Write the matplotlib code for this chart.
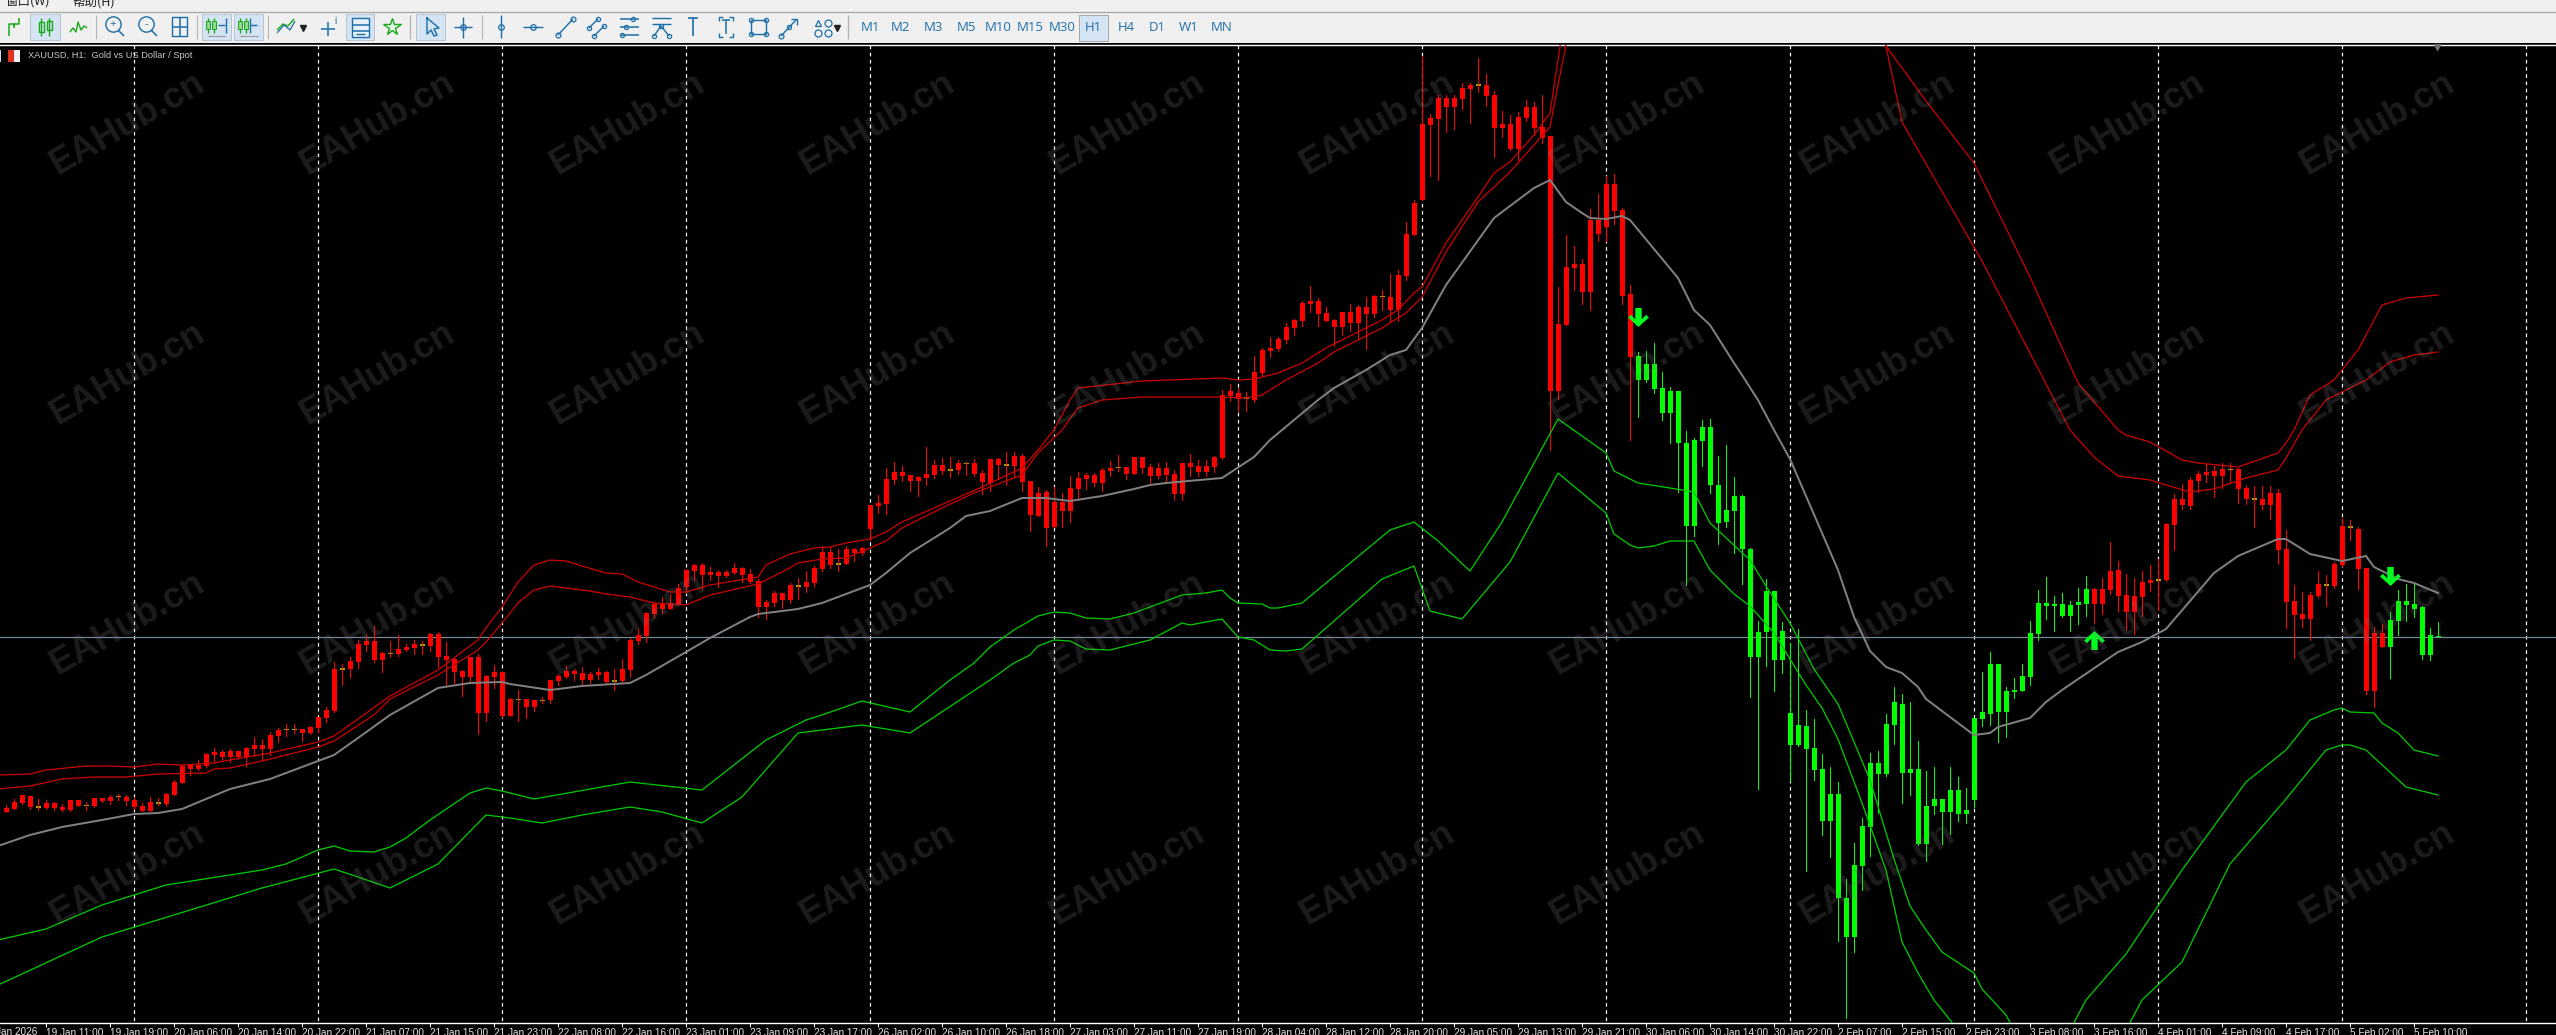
import numpy as np
import matplotlib
matplotlib.use('Agg')
import matplotlib.pyplot as plt
from matplotlib.patches import Rectangle

# price levels have no axis in the picture, so they are kept as chart rows
high = [805,799,795,796,799,800,802,804,800,800, 802,798,798,795,794,795,797,803,797,798,
        793,780,764,764,760,753,748,750,749,751, 747,737,739,732,728,724,724,729,726,717,
        707,662,664,657,640,635,626,652,641,635, 644,640,641,633,632,642,657,670,657,654,
        675,665,672,698,690,699,700,697,680,674, 666,669,667,672,668,671,669,659,638,629,
        612,602,597,594,584,569,564,563,567,570, 570,563,567,569,579,600,591,593,583,578,
        571,566,546,547,549,546,548,547,505,495, 468,462,466,475,476,447,460,458,457,460,
        462,459,470,459,458,452,452,454,481,487, 490,487,493,476,472,473,473,468,461,455,
        467,457,457,464,463,462,470,463,454,460, 460,456,390,384,388,392,356,348,337,337,
        323,319,301,286,298,307,319,312,304,305, 297,295,290,274,270,222,200,56,114,95,
        95,95,83,83,58,74,91,111,115,112, 100,102,95,136,287,235,246,259,209,194,
        176,174,208,285,352,351,343,372,387,391, 431,438,420,419,456,445,477,495,548,621,
        579,591,622,643,629,710,719,754,767,782, 879,843,818,753,751,714,687,694,702,741,
        771,767,799,767,777,788,718,672,652,664, 687,678,664,621,590,577,596,593,601,588,
        576,588,578,542,561,574,578,571,565,559, 523,494,484,477,471,464,466,463,463,468,
        485,486,486,486,489,530,585,592,592,571, 575,562,518,520,527,568,627,624,612,590,
        584,584,606,628,622]
body_top = [808,802,795,796,806,803,803,807,800,800, 805,798,798,797,796,797,800,806,802,802,
        794,782,766,765,765,754,752,752,751,751, 748,745,745,735,730,729,729,729,727,717,
        710,669,668,661,644,641,641,653,653,649, 647,644,644,634,634,656,659,671,657,657,
        676,672,672,699,699,699,700,700,680,676, 671,671,673,674,672,672,680,669,640,635,
        613,604,604,603,588,570,565,565,572,572, 572,568,568,574,581,602,593,593,585,585,
        582,568,552,552,563,549,549,548,505,503, 479,472,472,475,477,474,465,465,469,463,
        463,463,473,459,459,464,456,456,481,493, 492,502,502,488,478,475,475,470,468,467,
        467,457,457,467,468,468,474,463,463,466, 466,457,395,391,393,397,372,350,348,339,
        327,320,303,301,301,313,320,312,312,307, 307,296,296,297,275,234,203,124,118,98,
        98,98,88,85,84,85,95,124,124,117, 107,107,127,136,324,267,264,264,220,220,
        184,184,210,294,356,364,364,388,391,391, 443,440,427,427,485,510,496,496,549,632,
        591,591,631,713,725,726,748,769,794,794, 898,865,826,763,763,724,702,704,769,769,
        806,799,799,790,790,810,718,712,664,664, 691,690,676,633,603,603,604,604,605,602,
        589,589,589,571,570,595,596,582,580,579, 524,499,499,480,474,472,471,469,469,469,
        488,498,499,493,493,549,601,614,595,584, 584,564,526,526,529,568,633,633,620,601,
        601,604,607,635,636]
body_bot = [812,809,803,807,808,808,808,810,810,806, 806,806,801,801,797,801,807,811,811,804,
        804,795,783,769,769,766,755,757,757,757, 757,749,749,749,736,730,730,733,733,728,
        718,711,670,669,662,645,660,660,654,654, 650,648,646,646,657,660,672,677,677,713,
        713,677,716,716,700,707,707,701,700,681, 677,674,680,680,675,682,682,681,670,641,
        636,614,609,609,604,587,571,575,575,576, 576,573,575,582,607,607,603,600,600,587,
        587,583,569,565,565,564,553,553,529,506, 504,480,476,481,481,478,475,471,471,470,
        464,474,482,483,465,466,466,482,515,516, 528,527,511,511,489,479,483,483,471,468,
        474,474,468,476,476,475,494,494,467,472, 472,467,458,396,399,399,400,373,351,349,
        340,328,321,304,314,321,327,327,323,323, 314,314,297,310,310,276,235,200,125,119,
        107,107,99,89,86,96,128,128,149,149, 118,128,138,391,391,325,268,292,292,234,
        227,211,296,357,380,380,389,413,413,443, 526,526,441,485,523,522,511,549,657,657,
        632,660,660,745,745,749,770,821,821,898, 937,937,866,827,774,774,725,773,773,844,
        844,806,812,812,814,814,800,719,714,712, 712,692,691,677,634,606,606,616,616,605,
        604,604,604,590,596,612,612,597,583,581, 580,525,505,506,481,475,476,476,470,489,
        499,500,505,505,550,602,615,619,619,596, 586,586,565,528,569,691,691,647,647,621,
        605,609,655,655,637]
low = [812,809,804,809,810,809,810,811,811,806, 810,807,802,804,800,805,809,811,811,805,
        806,795,783,775,770,767,762,760,762,759, 766,756,761,755,742,736,733,741,734,732,
        722,712,685,677,668,651,662,672,657,656, 651,654,654,651,667,686,683,696,682,734,
        721,688,717,716,721,718,711,703,703,685, 678,680,685,683,679,683,690,682,677,644,
        642,617,613,609,605,593,580,589,580,587, 577,574,582,583,617,619,606,608,603,599,
        592,587,571,568,571,564,561,555,540,513, 514,484,481,491,496,485,478,474,477,474,
        475,476,494,491,479,485,476,491,531,516, 546,527,527,522,498,489,486,491,476,471,
        479,474,473,484,478,482,500,500,476,476, 476,472,459,401,411,411,402,376,357,351,
        343,335,326,312,326,321,346,335,331,338, 349,317,310,322,321,280,235,200,176,180,
        132,129,109,123,92,106,157,137,150,160, 121,135,143,450,399,325,290,304,310,241,
        241,224,304,440,417,382,393,420,443,492, 585,536,466,493,544,527,553,584,697,789,
        666,691,673,781,746,871,780,835,857,941, 1018,952,890,856,813,776,744,803,795,845,
        861,814,844,834,821,823,807,726,725,742, 737,698,691,685,640,619,631,617,631,624,
        616,623,614,594,612,630,634,616,591,610, 581,550,509,509,492,482,497,488,482,503,
        504,527,509,519,564,628,658,627,640,597, 606,588,566,540,589,694,707,647,678,635,
        621,617,659,660,637]
green_runs = [(204, 260), (298, 304)]

mid_x = [-1,3,7,12,16,19,22,28,33,37,41,44,48,54,58,62,63,68,72,78,80,85,88,93,94,99,102,108,110,113,118,120,123,127,130,133,137,141,143,145,152,156,158,164,166,170,173,175,177,180,186,189,191,193,195,197,198,200,202,203,209,211,213,216,217,219,221,223,229,231,233,235,237,239,240,246,248,249,253,255,257,264,267,270,276,279,284,285,288,292,295,296,299,301,304]
mid_y = [846,835,827,820,814,813,809,789,779,767,755,738,715,688,683,682,684,690,686,683,675,652,638,617,614,609,603,585,573,553,528,516,511,498,498,501,496,489,485,483,478,457,440,400,388,370,355,350,328,285,218,200,188,180,202,213,218,219,216,220,278,310,325,363,375,400,430,459,570,617,651,667,673,687,699,735,733,727,718,702,690,652,642,629,573,556,539,539,554,561,556,567,579,583,593]

red_a_x = [-1,3,5,10,13,16,19,22,26,28,33,39,41,44,48,54,59,60,62,64,66,68,70,72,75,77,79,83,85,88,94,95,98,99,101,103,105,108,110,112,118,122,127,129,131,133,134,142,152,154,156,159,162,165,169,172,174,176,177,180,184,186,188,191,193,194,195]
red_a_y = [775,774,770,766,766,767,764,765,763,760,753,742,736,719,696,670,640,628,607,582,565,560,561,566,573,574,582,592,592,585,577,565,554,552,548,547,543,539,532,522,501,487,468,450,430,400,388,381,378,380,379,373,363,348,332,320,310,293,287,243,197,173,162,135,113,60,5]
red_a2_x = [234,235,240,246,253,259,264,265,268,272,274,279,284,285,286,288,291,294,297,300,304]
red_a2_y = [-10,46,101,163,277,383,430,435,442,460,463,467,453,443,430,395,380,350,305,298,295]
red_b_x = [-1,3,7,11,15,19,25,26,28,32,39,41,46,48,54,59,60,62,64,66,68,73,75,78,81,85,88,94,97,99,102,105,108,110,112,117,121,127,129,132,134,137,142,152,155,157,160,164,166,169,172,175,177,180,184,188,191,193,194,195,196]
red_b_y = [789,786,779,777,777,774,773,769,768,761,747,741,715,699,675,650,642,623,603,590,586,591,594,597,603,605,595,584,572,563,559,558,548,541,528,508,493,475,453,430,408,400,397,397,398,395,380,363,352,340,328,313,297,252,202,172,145,127,85,45,-20]
red_b2_x = [234,235,237,247,258,261,264,268,270,273,276,280,284,285,287,290,295,298,301,304]
red_b2_y = [-60,46,122,261,430,457,476,480,485,492,489,478,470,458,430,400,380,362,355,352]

green_a_x = [-1,5,12,20,32,35,39,41,43,46,48,50,53,58,60,62,66,78,87,95,98,100,102,107,113,118,121,123,126,129,131,133,135,138,141,143,147,150,152,153,154,157,158,159,162,173,176,179,183,187,194,200,201,204,208,211,213,218,220,223,226,229,233,236,238,240,242,246,247,250,251]
green_a_y = [940,929,905,885,870,864,850,846,851,852,847,838,820,793,788,791,799,782,790,740,728,720,715,701,712,680,663,647,630,616,612,613,618,619,613,607,595,593,590,598,603,604,608,608,603,530,522,541,571,522,419,453,471,483,488,492,523,560,586,623,669,704,780,859,906,930,952,973,989,1015,1030]
green_a2_x = [258,260,265,272,280,285,288,291,292,293,296,297,299,301,304]
green_a2_y = [1030,1000,954,870,782,750,720,710,708,712,713,723,733,750,756]
green_b_x = [-1,12,32,41,44,48,54,60,63,67,72,78,82,87,92,99,107,113,123,126,128,129,131,133,135,138,141,143,147,148,152,154,156,158,160,162,172,176,178,182,188,194,200,201,203,204,206,208,211,213,216,218,221,225,227,229,232,235,237,239,241,244]
green_b_y = [985,937,888,869,877,888,864,815,818,823,815,807,812,823,797,733,725,733,680,663,655,646,640,641,649,650,644,640,623,625,619,637,640,650,651,649,579,566,611,619,562,473,513,534,545,548,546,541,541,570,594,606,633,685,708,739,803,870,942,973,1000,1030]
green_b2_x = [265,267,272,278,285,290,292,293,295,300,304]
green_b2_y = [1030,1000,962,864,799,750,745,745,750,787,795]

down_arrow_x = [204, 298]
down_arrow_y = [317, 576]
up_arrow_x = [261]
up_arrow_y = [640]
last_row = 636.5

tick_pos = np.arange(5, 302, 8)
first_tick = -3
first_label = '19 Jan 2026'
tick_labels = ['19 Jan 11:00','19 Jan 19:00','20 Jan 06:00','20 Jan 14:00','20 Jan 22:00',
    '21 Jan 07:00','21 Jan 15:00','21 Jan 23:00','22 Jan 08:00','22 Jan 16:00','23 Jan 01:00','23 Jan 09:00',
    '23 Jan 17:00','26 Jan 02:00','26 Jan 10:00','26 Jan 18:00','27 Jan 03:00','27 Jan 11:00','27 Jan 19:00',
    '28 Jan 04:00','28 Jan 12:00','28 Jan 20:00','29 Jan 05:00','29 Jan 13:00','29 Jan 21:00','30 Jan 06:00',
    '30 Jan 14:00','30 Jan 22:00','2 Feb 07:00','2 Feb 15:00','2 Feb 23:00','3 Feb 08:00','3 Feb 16:00',
    '4 Feb 01:00','4 Feb 09:00','4 Feb 17:00','5 Feb 02:00','5 Feb 10:00']
day_starts = np.arange(16, 319, 23)
periods = ['M1','M2','M3','M5','M10','M15','M30','H1','H4','D1','W1','MN']
period_x = [870,901,933,966,998,1030,1062,1093,1126,1157,1189,1222]

W, H = 2556, 1035
px = 0.72
plt.rcParams['font.family'] = ['Liberation Sans', 'DejaVu Sans']
fig = plt.figure(figsize=(W/100, H/100), dpi=100, facecolor='black')

ax = fig.add_axes([0, (H-1023)/H, 1, (1023-44.5)/H], facecolor='black')

n = len(high)
idx = np.arange(n)
top = np.array(body_top)
bot = np.array(body_bot)
is_green = np.zeros(n, dtype=bool)
for a, b in green_runs:
    is_green[a:b+1] = True
wick_col = ['#00ff00' if g else '#ff0000' for g in is_green]
body_col = []
for i in idx:
    if is_green[i]:
        body_col.append('#00ff00')
    elif bot[i]-top[i] <= 2:
        body_col.append('#a0b000')
    else:
        body_col.append('#ff0000')

ax.vlines(day_starts, 44.5, 1023, colors='white', lw=px*1.2, linestyles=(0, (3, 3)), zorder=1)
ax.axhline(last_row, color='#778899', lw=px*1.2, zorder=1.5)
ax.bar(idx, np.maximum(bot-top, 1), bottom=top, width=5/8, color=body_col, linewidth=0, antialiased=False, zorder=3)
ax.vlines(idx, high, low, colors=wick_col, lw=px, antialiased=False, zorder=4)

for xs, ys in [(red_a_x, red_a_y), (red_a2_x, red_a2_y), (red_b_x, red_b_y), (red_b2_x, red_b2_y)]:
    ax.plot(xs, ys, color='#c80000', lw=px*1.3, zorder=5)
for xs, ys in [(green_a_x, green_a_y), (green_a2_x, green_a2_y), (green_b_x, green_b_y), (green_b2_x, green_b2_y)]:
    ax.plot(xs, ys, color='#00c800', lw=px*1.3, zorder=5)
ax.plot(mid_x, mid_y, color='#808080', lw=px*2, zorder=5)

down = [(-1.7,-5),(-1.7,1),(-4,-1.4),(-5.5,0),(0,5),(5.5,0),(4,-1.4),(1.7,1),(1.7,-5)]
down = [(x, -y) for x, y in down]
up = [(x, -y) for x, y in down]
ax.scatter(down_arrow_x, down_arrow_y, marker=down, s=225, color='#00ff1e', linewidth=0, zorder=6)
ax.scatter(up_arrow_x, up_arrow_y, marker=up, s=225, color='#00ff1e', linewidth=0, zorder=6)

ax.set_yticks([])
ax.set_xticks(tick_pos, tick_labels, ha='left')
ax.tick_params(axis='x', length=4*px, width=px, color='white', labelcolor='#e6e6e6', labelsize=7.2, pad=0.5)
ax.set_xlim(-0.75, (W-6)/8)
ax.set_ylim(1023, 44.5)
for s in ['left', 'right']:
    ax.spines[s].set_visible(False)
ax.spines['bottom'].set_color('white')
ax.spines['bottom'].set_linewidth(px*1.4)
ax.spines['top'].set_color('white')
ax.spines['top'].set_linewidth(px*1.4)
# first date starts left of the window, so it can't be a normal tick
ax.annotate(first_label, (first_tick, 0), xycoords=('data', 'axes fraction'), xytext=(0, -6.5), textcoords='offset points',
            color='#e6e6e6', fontsize=7.2, ha='left', va='center', annotation_clip=False)

# overlay in screen pixels for the terminal window around the chart
ui = fig.add_axes([0, 0, 1, 1], facecolor='none')
ui.set_xlim(0, W)
ui.set_ylim(H, 0)
ui.axis('off')

for wx in np.arange(128, 2500, 250):
    for wy in [124, 374, 624, 874]:
        ui.text(wx, wy, 'EAHub.cn', color='#808080', alpha=0.22, fontsize=26, fontweight='bold',
                rotation=30, rotation_mode='anchor', ha='center', va='center', clip_on=True, zorder=1)

ui.add_patch(Rectangle((0, 0), W, 43, facecolor='#f0f0f0', edgecolor='none', zorder=2))
ui.add_patch(Rectangle((0, 43), W, 1, facecolor='black', edgecolor='none', zorder=2))
ui.plot([0, W], [11.8, 11.8], color='#a8a8a8', lw=px*1.3, zorder=3)
cjk = ['Noto Sans CJK SC', 'DejaVu Sans']
ui.text(5, 2, '窗口(W)', fontsize=9, color='#222222', family=cjk, va='center', zorder=3)
ui.text(72, 2, '帮助(H)', fontsize=9, color='#222222', family=cjk, va='center', zorder=3)

BLUE = '#1b6ea8'
GRN = '#18a818'
def box(x0, x1, y0=14, y1=40, fc='#d5e4f3'):
    ui.add_patch(Rectangle((x0, y0), x1-x0, y1-y0, facecolor=fc, edgecolor='#b8c4cf', lw=px, zorder=3))
def seg(xs, ys, c=BLUE, lw=1.1):
    ui.plot(xs, ys, color=c, lw=lw, solid_capstyle='butt', zorder=4)
def circ(x, y, r=6, c=BLUE):
    ui.plot([x], [y], marker='o', ms=r, mfc='none', mec=c, mew=0.9, zorder=4)

for x0, x1 in [(30, 60), (202, 231), (234, 263), (346, 374), (416, 445)]:
    box(x0, x1)
for x in [96, 197, 268, 482]:
    seg([x, x], [15, 39], '#b4b4b4', 0.8)
for x in [410, 848]:
    seg([x, x], [15, 39], '#b4b4b4', 1.0)

# bar / candle / line icons
seg([9, 9, 14, 14], [36, 24, 24, 26], GRN); seg([14, 14, 19, 19], [28, 24, 24, 18], GRN)
seg([41, 41], [18, 36], GRN, 1); seg([49, 49], [18, 36], GRN, 1)
ui.add_patch(Rectangle((38.5, 22), 5, 10, fc='none', ec=GRN, lw=1, zorder=4))
ui.add_patch(Rectangle((46.5, 21), 5, 9, fc='none', ec=GRN, lw=1, zorder=4))
seg([70, 73, 76, 78, 81, 84, 87], [32, 28, 32, 22, 30, 26, 28], GRN, 1.0)
# zoom icons and grid
for x, lab in [(113, '+'), (146, '-')]:
    ui.plot([x], [24], marker='o', ms=11, mfc='none', mec=BLUE, mew=1.0, zorder=4)
    seg([x+5, x+11], [30, 36])
    ui.text(x, 24, lab, color=BLUE, fontsize=8, ha='center', va='center', zorder=4)
ui.add_patch(Rectangle((172, 17), 15, 19, fc='none', ec=BLUE, lw=1.0, zorder=4))
seg([179.5, 179.5], [17, 36]); seg([172, 187], [26.5, 26.5])
# shift and scroll
for x0, d in [(208, 1), (240, -1)]:
    seg([x0, x0], [18, 33], GRN, 1); seg([x0+6, x0+6], [18, 33], GRN, 1)
    ui.add_patch(Rectangle((x0-2, 21), 4, 8, fc='#90d890', ec=GRN, lw=0.7, zorder=4))
    ui.add_patch(Rectangle((x0+4, 21), 4, 8, fc='#90d890', ec=GRN, lw=0.7, zorder=4))
    seg([x0+10, x0+17], [25, 25], BLUE, 1)
    seg([x0+18 if d > 0 else x0+10, x0+18 if d > 0 else x0+10], [18, 33], BLUE, 1)
    seg([x0, x0+18], [36, 36], '#a0a0a0', 0.9)
# indicators
seg([277, 283, 288, 294], [30, 24, 26, 19], GRN, 1.0); seg([277, 284, 290, 295], [33, 25, 30, 21], BLUE, 0.9)
ui.plot([303], [28], marker='v', ms=4, color='#222222', zorder=4)
seg([328, 328], [22, 36]); seg([321, 335], [29, 29]); ui.text(335, 21, 'i', color=BLUE, fontsize=7, ha='center', va='center', zorder=4)
ui.add_patch(Rectangle((352, 18), 17, 19, fc='#e8f1fa', ec=BLUE, lw=1.0, zorder=4))
seg([352, 369], [25, 25]); seg([352, 369], [31, 31]); seg([356, 365], [34, 34], BLUE, 1)
ui.plot([392], [27], marker='*', ms=13, mfc='#e4f6e4', mec=GRN, mew=1, zorder=4)
# cursor and crosshair
ui.plot([427, 427, 431, 434, 437, 434, 439, 427], [18, 34, 30, 36, 35, 29, 28, 18], color=BLUE, lw=1.0, zorder=4)
seg([463, 463], [17, 38], BLUE, 1); seg([454, 472], [27, 27], BLUE, 1); circ(463, 27, 4)
# line tools
seg([501, 501], [15, 38], BLUE, 1); circ(501, 27, 4)
seg([523, 543], [27, 27], BLUE, 1); circ(533, 27, 4)
seg([558, 573], [35, 19], BLUE, 1); circ(558, 35, 3.5); circ(573, 19, 3.5)
seg([589, 598], [28, 19], BLUE, 1); seg([594, 604], [36, 26], BLUE, 1)
for x, y in [(589, 28), (598, 19), (594, 36), (604, 26)]:
    circ(x, y, 3)
for y in [19, 27, 35]:
    seg([620, 639], [y, y], BLUE, 1.1)
for x, y in [(633, 19), (626, 27), (622, 35)]:
    circ(x, y, 3)
for y in [18, 24]:
    seg([652, 671], [y, y], BLUE, 1)
seg([654, 661, 669], [36, 26, 36], BLUE, 1); circ(654, 36, 3); circ(669, 36, 3); circ(661, 26, 3)
seg([688, 698], [18, 18], BLUE, 1.2); seg([693, 693], [18, 36], BLUE, 1.2)
seg([719, 719, 723], [21, 17, 17], BLUE, 1); seg([729, 733, 733], [17, 17, 21], BLUE, 1)
seg([719, 719, 723], [33, 37, 37], BLUE, 1); seg([729, 733, 733], [37, 37, 33], BLUE, 1)
seg([722, 730], [20, 20], BLUE, 1.1); seg([726, 726], [20, 34], BLUE, 1.1)
ui.add_patch(Rectangle((751, 20), 15, 14, fc='none', ec=BLUE, lw=1, zorder=4))
for x, y in [(751, 20), (766, 20), (751, 34), (766, 34)]:
    circ(x, y, 3)
seg([781, 796], [36, 20], BLUE, 1); seg([791, 797, 797], [19, 19, 25], BLUE, 1); circ(781, 36, 3.5); circ(789, 27, 3)
ui.plot([818], [23], marker='^', ms=5, mfc='none', mec=BLUE, mew=0.9, zorder=4)
circ(828, 23, 5); circ(818, 33, 5); circ(828, 33, 5)
ui.plot([837], [28], marker='v', ms=4, color='#222222', zorder=4)

# timeframe buttons
ui.add_patch(Rectangle((1078.5, 14.5), 29, 26, fc='#d5e4f3', ec='#a8a8a8', lw=px, zorder=3))
for lab, x in zip(periods, period_x):
    ui.text(x, 27.5, lab, color='#1f6fa8', fontsize=9.5, family=['Open Sans', 'DejaVu Sans'],
            ha='center', va='center', zorder=4)

# chart title line
ui.text(27.5, 56, 'XAUUSD, H1:  Gold vs US Dollar / Spot', color='#c8c8c8', fontsize=6.7, va='center', zorder=4)
ui.add_patch(Rectangle((8, 50), 6, 12, fc='#e03020', ec='none', zorder=4))
ui.add_patch(Rectangle((14, 50), 6, 12, fc='#f0f0f0', ec='none', zorder=4))
ui.add_patch(Rectangle((0, 50), 1, 12, fc='#c0d8f0', ec='none', zorder=4))
ui.plot([2437], [47], marker='v', ms=4, color='#707070', zorder=4)

fig.savefig('out.png', dpi=100, facecolor='black')
